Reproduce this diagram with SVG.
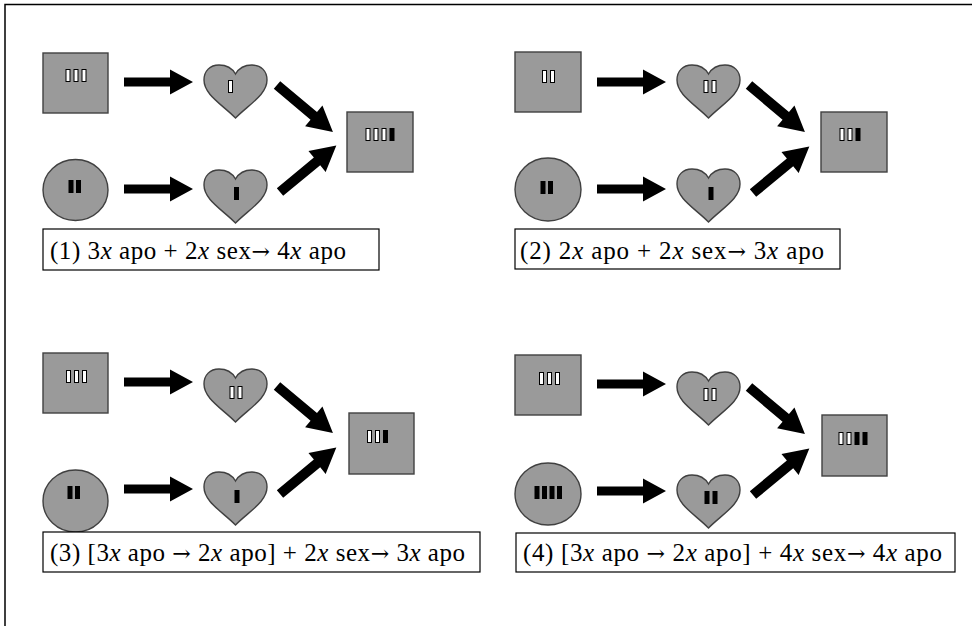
<svg xmlns="http://www.w3.org/2000/svg" xmlns:xlink="http://www.w3.org/1999/xlink" width="972" height="626" viewBox="0 0 972 626">
<style>
.shape{fill:#9a9a9a;stroke:#404040;stroke-width:1.4}
.wb{fill:#ffffff;stroke:#000000;stroke-width:1}
.bb{fill:#000000}
.arrow{fill:#000000}
.lbox{fill:#ffffff;stroke:#000000;stroke-width:1.2}
.ltxt{font-family:"Liberation Serif","Times New Roman",serif;font-size:25px;fill:#000000}
.it{font-style:italic}
.ar{font-family:"DejaVu Serif",serif;font-size:22px}
</style>
<defs>
<path id="heart" class="shape" d="M32.5,9 C29,3 23,0 16,0 C7,0 1,6 1,15 C1,30 20,40 32.5,53 C45,40 64,30 64,15 C64,6 58,0 49,0 C42,0 36,3 32.5,9 Z"/>
<polygon id="harrow" class="arrow" points="0,-4.5 46,-4.5 46,-12.5 69,0 46,12.5 46,4.5 0,4.5"/>
<polygon id="darrow" class="arrow" points="0,-5 48,-5 48,-13.5 73,0 48,13.5 48,5 0,5"/>
<rect id="w" class="wb" x="0.5" y="0.5" width="4" height="12"/>
<rect id="b" class="bb" x="0" y="0" width="5" height="13"/>
</defs>
<path d="M5,626 V4.5 H972" fill="none" stroke="#000" stroke-width="1.5"/>

<!-- Panel 1 -->
<g id="panel1" transform="translate(43,53)">
  <g id="p1-connectors">
    <use xlink:href="#harrow" transform="translate(81,29)"/>
    <use xlink:href="#harrow" transform="translate(81,136)"/>
    <use xlink:href="#darrow" transform="translate(234,32) rotate(40)"/>
    <use xlink:href="#darrow" transform="translate(237,139) rotate(-39.5)"/>
  </g>
  <g id="p1-apo-in">
    <rect class="shape" x="0" y="0" width="65" height="60"/>
    <use xlink:href="#w" x="22.5" y="16"/><use xlink:href="#w" x="30.5" y="16"/><use xlink:href="#w" x="38.5" y="16"/>
  </g>
  <g id="p1-sex-in">
    <ellipse class="shape" cx="32.5" cy="137" rx="32.5" ry="30.5"/>
    <use xlink:href="#b" x="25.5" y="127"/><use xlink:href="#b" x="33" y="127"/>
  </g>
  <g id="p1-heart-top">
    <use xlink:href="#heart" x="160" y="12"/>
    <use xlink:href="#w" x="185" y="27"/>
  </g>
  <g id="p1-heart-bottom">
    <use xlink:href="#heart" x="160" y="117"/>
    <use xlink:href="#b" x="191" y="134"/>
  </g>
  <g id="p1-apo-out">
    <rect class="shape" x="304" y="59" width="66" height="60"/>
    <use xlink:href="#w" x="322.5" y="75"/><use xlink:href="#w" x="330.5" y="75"/><use xlink:href="#w" x="338.5" y="75"/><use xlink:href="#b" x="346.5" y="75"/>
  </g>
  <g id="p1-label">
    <rect class="lbox" x="0" y="176" width="336" height="41"/>
    <text class="ltxt" x="7" y="206" textLength="296">(1) 3<tspan class="it">x</tspan> apo + 2<tspan class="it">x</tspan> sex<tspan class="ar">→</tspan> 4<tspan class="it">x</tspan> apo</text>
  </g>
</g>

<!-- Panel 2 -->
<g id="panel2" transform="translate(515,52)">
  <g id="p2-connectors">
    <use xlink:href="#harrow" transform="translate(82,30)"/>
    <use xlink:href="#harrow" transform="translate(82,137)"/>
    <use xlink:href="#darrow" transform="translate(234,33) rotate(40)"/>
    <use xlink:href="#darrow" transform="translate(238,141) rotate(-39.5)"/>
  </g>
  <g id="p2-apo-in">
    <rect class="shape" x="0" y="0" width="66" height="60"/>
    <use xlink:href="#w" x="27" y="18"/><use xlink:href="#w" x="35" y="18"/>
  </g>
  <g id="p2-sex-in">
    <ellipse class="shape" cx="33" cy="137.5" rx="33" ry="31.5"/>
    <use xlink:href="#b" x="25.5" y="129"/><use xlink:href="#b" x="33" y="129"/>
  </g>
  <g id="p2-heart-top">
    <use xlink:href="#heart" x="161" y="13"/>
    <use xlink:href="#w" x="188.5" y="28"/><use xlink:href="#w" x="196.5" y="28"/>
  </g>
  <g id="p2-heart-bottom">
    <use xlink:href="#heart" x="161" y="117"/>
    <use xlink:href="#b" x="193.5" y="135"/>
  </g>
  <g id="p2-apo-out">
    <rect class="shape" x="306" y="60" width="66" height="60"/>
    <use xlink:href="#w" x="324.5" y="76"/><use xlink:href="#w" x="332.5" y="76"/><use xlink:href="#b" x="340.5" y="76"/>
  </g>
  <g id="p2-label">
    <rect class="lbox" x="0" y="177" width="325" height="40"/>
    <text class="ltxt" x="5" y="207" textLength="304">(2) 2<tspan class="it">x</tspan> apo + 2<tspan class="it">x</tspan> sex<tspan class="ar">→</tspan> 3<tspan class="it">x</tspan> apo</text>
  </g>
</g>

<!-- Panel 3 -->
<g id="panel3" transform="translate(43,353)">
  <g id="p3-connectors">
    <use xlink:href="#harrow" transform="translate(81,29)"/>
    <use xlink:href="#harrow" transform="translate(81,136)"/>
    <use xlink:href="#darrow" transform="translate(234,33) rotate(40)"/>
    <use xlink:href="#darrow" transform="translate(237,141) rotate(-39.5)"/>
  </g>
  <g id="p3-apo-in">
    <rect class="shape" x="0" y="0" width="65" height="60"/>
    <use xlink:href="#w" x="23" y="17"/><use xlink:href="#w" x="31" y="17"/><use xlink:href="#w" x="39" y="17"/>
  </g>
  <g id="p3-sex-in">
    <ellipse class="shape" cx="32.5" cy="148" rx="32.5" ry="31"/>
    <use xlink:href="#b" x="24.5" y="133"/><use xlink:href="#b" x="32" y="133"/>
  </g>
  <g id="p3-heart-top">
    <use xlink:href="#heart" x="160" y="16"/>
    <use xlink:href="#w" x="186.5" y="33"/><use xlink:href="#w" x="194.5" y="33"/>
  </g>
  <g id="p3-heart-bottom">
    <use xlink:href="#heart" x="160" y="119"/>
    <use xlink:href="#b" x="191.5" y="137"/>
  </g>
  <g id="p3-apo-out">
    <rect class="shape" x="306" y="60" width="65" height="61"/>
    <use xlink:href="#w" x="324" y="77"/><use xlink:href="#w" x="332" y="77"/><use xlink:href="#b" x="340" y="77"/>
  </g>
  <g id="p3-label">
    <rect class="lbox" x="0" y="179" width="437" height="40"/>
    <text class="ltxt" x="7" y="208" textLength="415">(3) [3<tspan class="it">x</tspan> apo <tspan class="ar">→</tspan> 2<tspan class="it">x</tspan> apo] + 2<tspan class="it">x</tspan> sex<tspan class="ar">→</tspan> 3<tspan class="it">x</tspan> apo</text>
  </g>
</g>

<!-- Panel 4 -->
<g id="panel4" transform="translate(515,355)">
  <g id="p4-connectors">
    <use xlink:href="#harrow" transform="translate(82,29)"/>
    <use xlink:href="#harrow" transform="translate(82,136)"/>
    <use xlink:href="#darrow" transform="translate(234,32) rotate(40)"/>
    <use xlink:href="#darrow" transform="translate(238,140) rotate(-39.5)"/>
  </g>
  <g id="p4-apo-in">
    <rect class="shape" x="0" y="0" width="66" height="60"/>
    <use xlink:href="#w" x="24" y="17"/><use xlink:href="#w" x="32" y="17"/><use xlink:href="#w" x="40" y="17"/>
  </g>
  <g id="p4-sex-in">
    <ellipse class="shape" cx="33" cy="139" rx="33" ry="31"/>
    <use xlink:href="#b" x="19.5" y="131"/><use xlink:href="#b" x="27" y="131"/><use xlink:href="#b" x="34.5" y="131"/><use xlink:href="#b" x="42" y="131"/>
  </g>
  <g id="p4-heart-top">
    <use xlink:href="#heart" x="161" y="17"/>
    <use xlink:href="#w" x="188.5" y="33"/><use xlink:href="#w" x="196.5" y="33"/>
  </g>
  <g id="p4-heart-bottom">
    <use xlink:href="#heart" x="161" y="120"/>
    <use xlink:href="#b" x="189.5" y="136"/><use xlink:href="#b" x="197.5" y="136"/>
  </g>
  <g id="p4-apo-out">
    <rect class="shape" x="307" y="60" width="65" height="61"/>
    <use xlink:href="#w" x="323.5" y="77"/><use xlink:href="#w" x="331.5" y="77"/><use xlink:href="#b" x="339.5" y="77"/><use xlink:href="#b" x="347.5" y="77"/>
  </g>
  <g id="p4-label">
    <rect class="lbox" x="1" y="178" width="439" height="39"/>
    <text class="ltxt" x="8" y="206" textLength="419">(4) [3<tspan class="it">x</tspan> apo <tspan class="ar">→</tspan> 2<tspan class="it">x</tspan> apo] + 4<tspan class="it">x</tspan> sex<tspan class="ar">→</tspan> 4<tspan class="it">x</tspan> apo</text>
  </g>
</g>
</svg>
